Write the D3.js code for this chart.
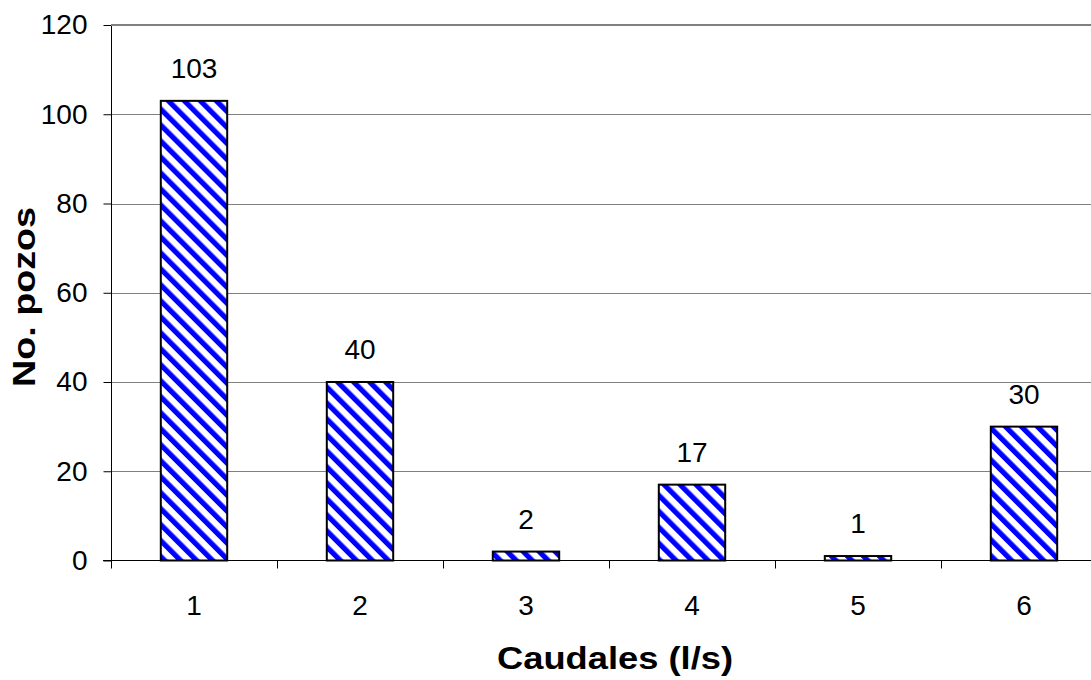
<!DOCTYPE html>
<html>
<head>
<meta charset="utf-8">
<script src="https://cdn.jsdelivr.net/npm/d3@7"></script>
<style>
  body { margin: 0; background: #fff; }
  svg { display: block; font-family: "Liberation Sans", Arial, sans-serif; }
</style>
</head>
<body>
<div id="chart"></div>
<script>
// data
var categories = ["1", "2", "3", "4", "5", "6"];
var pozos = [103, 40, 2, 17, 1, 30];
var yTicks = [0, 20, 40, 60, 80, 100, 120];

var W = 1091, H = 680;
var margin = {top: 25, right: -16, bottom: 120, left: 111};

var svg = d3.select("#chart").append("svg")
  .attr("width", W)
  .attr("height", H);

// diagonal blue stripes like the spreadsheet fill
var defs = svg.append("defs");
var pat = defs.append("pattern")
  .attr("id", "stripes")
  .attr("patternUnits", "userSpaceOnUse")
  .attr("width", 11.3)
  .attr("height", 11.3)
  .attr("patternTransform", "rotate(-45)");
pat.append("rect").attr("width", 11.3).attr("height", 11.3).attr("fill", "#fff");
pat.append("rect").attr("width", 5.2).attr("height", 11.3).attr("fill", "#0000ff");

var x = d3.scaleBand()
  .domain(categories)
  .range([margin.left, W - margin.right])
  .paddingInner(0.6)
  .paddingOuter(0.3);

var y = d3.scaleLinear()
  .domain([0, 120])
  .range([H - margin.bottom + 0.5, margin.top]);

// gridlines
svg.append("g")
  .selectAll("line")
  .data(yTicks.slice(1))
  .join("line")
  .attr("x1", margin.left)
  .attr("x2", W)
  .attr("y1", d => Math.round(y(d)) + 0.5)
  .attr("y2", d => Math.round(y(d)) + 0.5)
  .attr("stroke", "#808080")
  .attr("stroke-width", 1);

// bars
svg.append("g")
  .selectAll("rect")
  .data(pozos)
  .join("rect")
  .attr("x", (d, i) => x(categories[i]))
  .attr("y", d => y(d))
  .attr("width", x.bandwidth())
  .attr("height", d => y(0) - y(d))
  .attr("fill", "url(#stripes)")
  .attr("stroke", "#000")
  .attr("stroke-width", 2);

// value labels
svg.append("g")
  .selectAll("text")
  .data(pozos)
  .join("text")
  .attr("x", (d, i) => x(categories[i]) + x.bandwidth() / 2)
  .attr("y", d => y(d) - 23)
  .attr("text-anchor", "middle")
  .style("font-size", "28px")
  .text(d => d);

// y axis
var yAxis = svg.append("g")
  .attr("transform", `translate(${margin.left + 0.5},0)`)
  .call(d3.axisLeft(y).tickValues(yTicks).tickSize(8).tickPadding(16))
  .call(g => g.select(".domain").attr("stroke", "#000").attr("d", `M0,${y(120)}V${y(0) + 8}`));
yAxis.selectAll("text")
  .style("font-size", "28px")
  .style("font-family", "Liberation Sans, Arial, sans-serif")
  .attr("fill", "#000");
yAxis.selectAll(".tick line").attr("stroke", "#000");

// x axis
var x0 = y(0);
var bounds = d3.range(categories.length + 1).map(i => margin.left + i * x.step());
var xAxis = svg.append("g");
xAxis.append("line")
  .attr("x1", margin.left - 8)
  .attr("x2", W)
  .attr("y1", x0)
  .attr("y2", x0)
  .attr("stroke", "#000")
  .attr("stroke-width", 1);
xAxis.selectAll(".xtick")
  .data(bounds.slice(1))
  .join("line")
  .attr("class", "xtick")
  .attr("x1", d => Math.round(d) + 0.5)
  .attr("x2", d => Math.round(d) + 0.5)
  .attr("y1", x0)
  .attr("y2", x0 + 8)
  .attr("stroke", "#000");
xAxis.selectAll("text")
  .data(categories)
  .join("text")
  .attr("x", d => x(d) + x.bandwidth() / 2)
  .attr("y", x0 + 54)
  .attr("text-anchor", "middle")
  .style("font-size", "28px")
  .text(d => d);

// top border of plot area
svg.append("line")
  .attr("x1", margin.left)
  .attr("x2", W)
  .attr("y1", y(120))
  .attr("y2", y(120))
  .attr("stroke", "#808080")
  .attr("stroke-width", 2);

// axis titles
svg.append("text")
  .attr("x", 615)
  .attr("y", 669)
  .attr("text-anchor", "middle")
  .attr("textLength", 236)
  .attr("lengthAdjust", "spacingAndGlyphs")
  .style("font-size", "31px")
  .style("font-weight", "bold")
  .text("Caudales (l/s)");

svg.append("text")
  .attr("transform", "translate(35,297) rotate(-90)")
  .attr("text-anchor", "middle")
  .attr("textLength", 180)
  .attr("lengthAdjust", "spacingAndGlyphs")
  .style("font-size", "31px")
  .style("font-weight", "bold")
  .text("No. pozos");
</script>
</body>
</html>
